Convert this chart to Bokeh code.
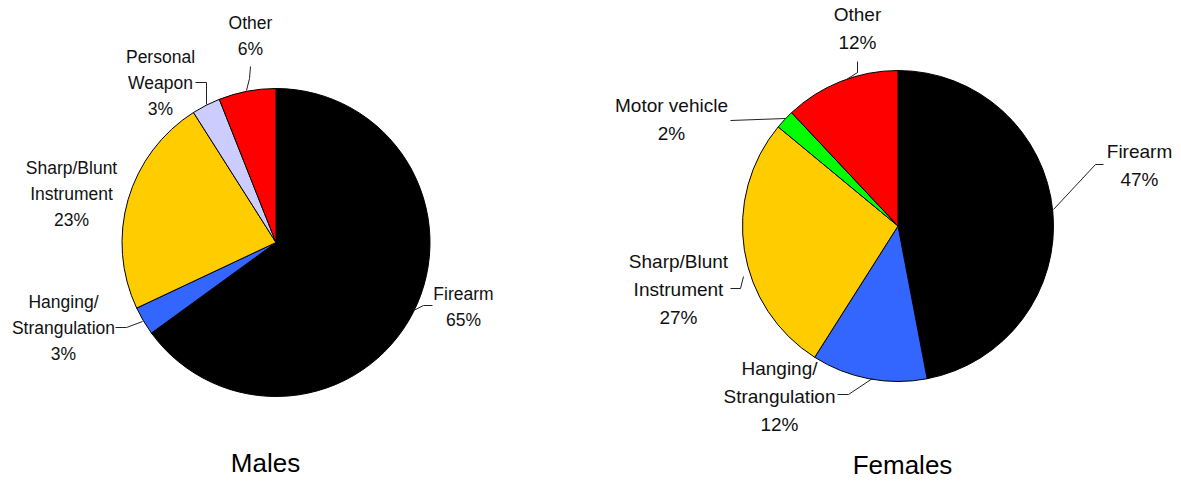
import numpy as np
from bokeh.plotting import figure
from bokeh.models import Range1d
from bokeh.embed import file_html
from bokeh.resources import INLINE
from bokeh.core.properties import value

# ---------------- data ----------------
male_categories = ["Firearm", "Hanging/Strangulation", "Sharp/Blunt Instrument", "Personal Weapon", "Other"]
male_values = [65, 3, 23, 3, 6]
male_label_lines = [["Firearm"], ["Hanging/", "Strangulation"], ["Sharp/Blunt", "Instrument"], ["Personal", "Weapon"], ["Other"]]
male_colors = ["#000000", "#3366FF", "#FFCC00", "#CCCCFF", "#FF0000"]

female_categories = ["Firearm", "Hanging/Strangulation", "Sharp/Blunt Instrument", "Motor vehicle", "Other"]
female_values = [47, 12, 27, 2, 12]
female_label_lines = [["Firearm"], ["Hanging/", "Strangulation"], ["Sharp/Blunt", "Instrument"], ["Motor vehicle"], ["Other"]]
female_colors = ["#000000", "#3366FF", "#FFCC00", "#00FF00", "#FF0000"]

titles = ["Males", "Females"]

# ---------------- layout (picture pixel coordinates) ----------------
W, H = 1181, 481
FONT = "Liberation Sans"

male_layout = dict(
    center=(275.5, 242.0), radius=154.0, font_size="17.5px", spacing=26.0,
    label_pos=[(463, 293), (63, 301), (71, 167), (160, 56), (250, 22)],
    leaders=[
        [(413, 310), (423, 305), (432, 305)],
        [(115, 327), (126, 327), (142, 321)],
        None,
        [(195, 82), (206, 82), (206, 104)],
        [(250, 66), (249, 78), (246, 90)],
    ],
    title_pos=(265, 462),
)
female_layout = dict(
    center=(897.5, 225.5), radius=155.5, font_size="19px", spacing=28.0,
    label_pos=[(1139, 151), (779, 368), (678, 261), (671, 105), (857, 14)],
    leaders=[
        [(1053, 209), (1095, 164), (1103, 164)],
        [(837, 394), (848, 394), (872, 378)],
        [(730, 288), (740, 288), (743, 276)],
        [(730, 120), (785, 118)],
        [(857, 61), (857, 72), (846, 79)],
    ],
    title_pos=(902, 464),
)

p = figure(width=W, height=H, output_backend="svg", toolbar_location=None,
           x_range=Range1d(0, W), y_range=Range1d(-H, 0),
           min_border=0)
p.axis.visible = False
p.xgrid.visible = False
p.ygrid.visible = False
p.outline_line_color = None
p.background_fill_color = "white"
p.border_fill_color = "white"


def Y(y):
    return -y


def draw_pie(vals, colors, lines, layout, title):
    vals = np.array(vals, dtype=float)
    frac = vals / vals.sum()
    cum = np.concatenate([[0.0], np.cumsum(frac)])
    start = np.pi / 2 - 2 * np.pi * cum[:-1]
    end = np.pi / 2 - 2 * np.pi * cum[1:]
    cx, cy = layout["center"]
    p.wedge(x=[cx] * len(vals), y=[Y(cy)] * len(vals), radius=layout["radius"],
            start_angle=list(start), end_angle=list(end), direction="clock",
            fill_color=colors, line_color="black", line_width=1)
    xs, ys, txt = [], [], []
    for i, (lab, v) in enumerate(zip(lines, vals)):
        lx, ly = layout["label_pos"][i]
        all_lines = lab + [f"{int(v)}%"]
        for k, t in enumerate(all_lines):
            xs.append(lx)
            ys.append(Y(ly + k * layout["spacing"]))
            txt.append(t)
    p.text(x=xs, y=ys, text=txt, text_align="center", text_baseline="middle",
           text_font=value(FONT), text_font_size=layout["font_size"], text_color="#111111")
    for ld in layout["leaders"]:
        if ld is None:
            continue
        p.line(x=[a for a, b in ld], y=[Y(b) for a, b in ld], line_color="#222222", line_width=1)
    tx, ty = layout["title_pos"]
    p.text(x=[tx], y=[Y(ty)], text=[title], text_align="center", text_baseline="middle",
           text_font=value(FONT), text_font_size="26px", text_color="black")


draw_pie(male_values, male_colors, male_label_lines, male_layout, titles[0])
draw_pie(female_values, female_colors, female_label_lines, female_layout, titles[1])

open("out.html", "w").write(file_html(p, INLINE))
